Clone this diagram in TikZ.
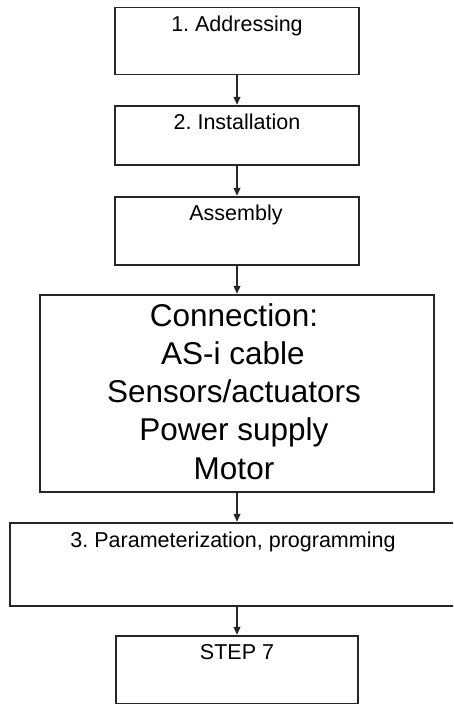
\documentclass[tikz,border=0pt]{standalone}
\usepackage{fontspec}
\setmainfont{Liberation Sans}
\usetikzlibrary{arrows.meta,calc}
\definecolor{edge}{HTML}{262626}
\frenchspacing
\tikzset{
  box/.style={draw=edge, line width=1.3pt, rectangle, inner sep=0pt},
  small/.style={font=\fontsize{21.5}{25}\selectfont, anchor=base, inner sep=0pt},
  big/.style={font=\fontsize{31.5}{38}\selectfont, anchor=base, inner sep=0pt},
  flow/.style={draw=edge, line width=1.1pt, -{Triangle[length=8pt,width=7pt]}, shorten >=0.6pt}
}
\begin{document}
\frenchspacing
\begin{tikzpicture}[x=1pt,y=-1pt]
\useasboundingbox (0,0) rectangle (453,704);
\clip (0,0) rectangle (453,704);
\node[box, minimum width=244pt, minimum height=67pt] (b1) at (237,41) {};
\node[box, minimum width=244pt, minimum height=59pt] (b2) at (237,135.5) {};
\node[box, minimum width=244pt, minimum height=68pt] (b3) at (237,231) {};
\node[box, minimum width=394pt, minimum height=197pt] (b4) at (237,393.5) {};
\node[box, minimum width=470pt, minimum height=83pt] (b5) at (245,564.5) {};
\node[box, minimum width=242pt, minimum height=68pt] (b6) at (237,670) {};

\node[small] (t1) at (237,31) {1. Addressing};
\node[small] (t2) at (237,129) {2. Installation};
\node[small] (t3) at (236,220) {Assembly};
\node[big] (c1) at (234,326) {Connection:};
\node[big] (c2) at (233,364) {AS-i cable};
\node[big] (c3) at (234,402) {Sensors/actuators};
\node[big] (c4) at (234,440) {Power supply};
\node[big] (c5) at (234,479) {Motor};
\node[small] (t5) at (233,547) {3. Parameterization, programming};
\node[small] (t6) at (237,659) {STEP 7};

\draw[flow] (b1.south) -- (b2.north);
\draw[flow] (b2.south) -- (b3.north);
\draw[flow] (b3.south) -- (b4.north);
\draw[flow] (b4.south) -- (b4.south |- b5.north);
\draw[flow] (b4.south |- b5.south) -- (b6.north);
\end{tikzpicture}
\end{document}
